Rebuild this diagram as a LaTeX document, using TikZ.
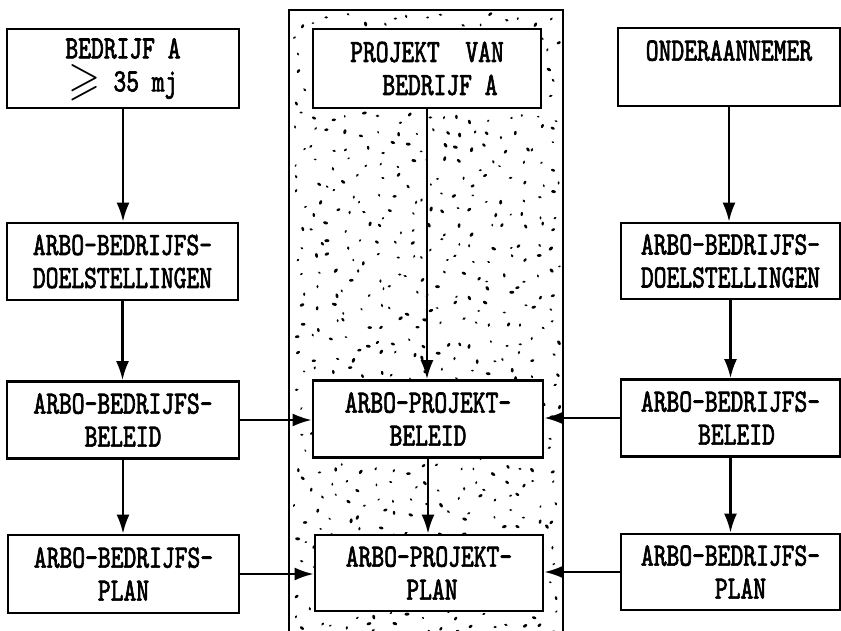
\documentclass[tikz,border=0pt]{standalone}
\usepackage{fontspec}
\usepackage{amssymb}
\usepackage{graphicx}
\usetikzlibrary{arrows.meta,calc}
\newfontfamily\tw[FakeStretch=0.75,FakeBold=2]{lmmono10-regular.otf}
\begin{document}
\begin{tikzpicture}[x=1pt,y=-1pt,
  box/.style={draw,line width=2.8pt,fill=white,inner sep=0pt,align=center,
    font=\tw\fontsize{32.5}{33}\selectfont},
  conn/.style={line width=2.2pt,-{Latex[length=19pt,width=13pt]}},
  frame/.style={line width=1.2pt}]
\clip (0,0) rectangle (841,631);
\useasboundingbox (0,0) rectangle (841,631);
% stippled project column
\draw[frame] (289,640) -- (289,10) -- (563,10) -- (563,640);
\pgfmathsetseed{11}
\foreach \i in {0,...,16}{
  \foreach \j in {0,...,38}{
    \pgfmathsetmacro\xx{294+\i*15.8+13*rnd}
    \pgfmathsetmacro\yy{14+\j*16+13*rnd}
    \pgfmathsetmacro\aa{180*rnd}
    \pgfmathsetmacro\rr{0.8+0.6*rnd}
    \fill[rotate around={\aa:(\xx,\yy)}] (\xx,\yy) ellipse ({\rr*1.8pt} and {\rr*1.1pt});
  }
}
% left column
\node[box,minimum width=232pt,minimum height=79pt] (L1) at (123,68.5)
  {BEDRIJF A\\\raisebox{-3pt}[0pt][0pt]{\scalebox{1.27}[1.45]{$\geqslant$}}~35~mj};
\node[box,minimum width=231pt,minimum height=77pt] (L2) at (122.5,261.5)
  {ARBO-BEDRIJFS-\\DOELSTELLINGEN};
\node[box,minimum width=232pt,minimum height=77pt] (L3) at (123,420)
  {ARBO-BEDRIJFS-\\BELEID};
\node[box,minimum width=231pt,minimum height=78pt] (L4) at (123.5,574)
  {ARBO-BEDRIJFS-\\PLAN};
% middle column
\node[box,minimum width=228pt,minimum height=79pt] (M1) at (427,68.5)
  {PROJEKT~~VAN\\\hspace{26pt}BEDRIJF A};
\node[box,minimum width=230pt,minimum height=77pt] (M2) at (428,419)
  {ARBO-PROJEKT-\\BELEID};
\node[box,minimum width=228pt,minimum height=76pt] (M3) at (429,573)
  {ARBO-PROJEKT-\hspace{22pt}\\\hspace{6pt}PLAN};
% right column
\node[box,minimum width=222pt,minimum height=78pt] (R1) at (729,67)
  {ONDERAANNEMER\\~};
\node[box,minimum width=219pt,minimum height=76pt] (R2) at (730.5,261)
  {ARBO-BEDRIJFS-\\DOELSTELLINGEN};
\node[box,minimum width=219pt,minimum height=77pt] (R3) at (730.5,418)
  {ARBO-BEDRIJFS-\\\hspace{12pt}BELEID};
\node[box,minimum width=219pt,minimum height=76pt] (R4) at (730.5,572)
  {ARBO-BEDRIJFS-\\\hspace{20pt}PLAN};
% vertical connectors
\draw[conn] (L1.south) -- (L1.south |- L2.north);
\draw[conn] (L2.south) -- (L2.south |- L3.north);
\draw[conn] (L3.south) -- (L3.south |- L4.north);
\draw[conn] (M1.south) -- (M1.south |- M2.north);
\draw[conn] (M2.south) -- (M2.south |- M3.north);
\draw[conn] (R1.south) -- (R1.south |- R2.north);
\draw[conn] (R2.south) -- (R2.south |- R3.north);
\draw[conn] (R3.south) -- (R3.south |- R4.north);
% horizontal connectors
\draw[conn] (L3.east) -- (L3.east -| M2.west);
\draw[conn] (L4.east) -- (L4.east -| M3.west);
\draw[conn] (R3.west) -- (R3.west -| M2.east);
\draw[conn] (R4.west) -- (R4.west -| M3.east);
\end{tikzpicture}
\end{document}
